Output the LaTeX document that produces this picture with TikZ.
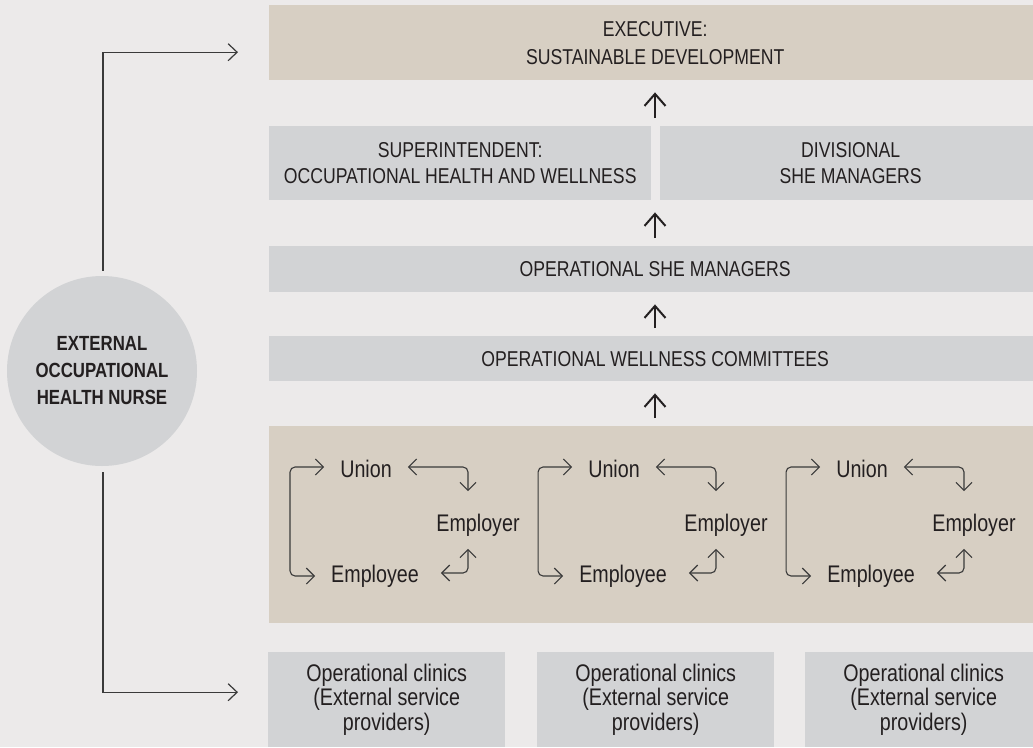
\documentclass[tikz,border=0pt]{standalone}
\usepackage{fontspec}
\setmainfont{Liberation Sans}[FakeStretch=0.82]
\usetikzlibrary{arrows.meta,calc}
\definecolor{bgc}{HTML}{ECEAEA}
\definecolor{tanc}{HTML}{D7CFC3}
\definecolor{grayc}{HTML}{D2D3D5}
\definecolor{textc}{HTML}{231F20}
\definecolor{linec}{HTML}{3A3A3A}
\tikzset{
  box/.style={anchor=north west, inner sep=0pt, align=center, text=textc,
    font=\fontsize{21.5}{26}\selectfont},
  tanbox/.style={box, fill=tanc},
  graybox/.style={box, fill=grayc},
  clinicbox/.style={graybox, minimum width=237pt, minimum height=95pt,
    font=\fontsize{24}{24.5}\selectfont},
  lower/.style={inner sep=0pt, text=textc, font=\fontsize{24}{26}\selectfont},
  nurse/.style={circle, fill=grayc, minimum size=190pt, inner sep=0pt,
    align=center, text=textc, font=\bfseries\fontsize{20.5}{27}\selectfont},
  conn/.style={draw=linec, line width=1.2pt, -{Straight Barb[length=9pt,width=17pt]}},
  tarrow/.style={draw=linec, line width=1.1pt, rounded corners=5pt,
    {Straight Barb[length=8pt,width=16pt]}-{Straight Barb[length=8pt,width=16pt]}},
  uparrow/.style={draw=textc, line width=2pt, -{Straight Barb[length=12pt,width=21pt]},
    shorten <=8pt, shorten >=12pt}
}
\begin{document}
\begin{tikzpicture}[x=1pt,y=-1pt]
\useasboundingbox (0,0) rectangle (1033,747);
\fill[bgc] (0,0) rectangle (1033,747);
\clip (0,0) rectangle (1033,747);
\coordinate (ax) at (655,0);

% boxes
\node[tanbox, minimum width=772pt, minimum height=75pt,
  font=\fontsize{21.5}{28}\selectfont] (exec) at (269,5)
  {EXECUTIVE:\\SUSTAINABLE DEVELOPMENT};
\node[graybox, minimum width=382pt, minimum height=74pt] (super) at (269,126)
  {SUPERINTENDENT:\\OCCUPATIONAL HEALTH AND WELLNESS};
\node[graybox, minimum width=381pt, minimum height=74pt] (div) at (660,126)
  {DIVISIONAL\\SHE MANAGERS};
\node[graybox, minimum width=772pt, minimum height=46pt] (osm) at (269,246)
  {OPERATIONAL SHE MANAGERS};
\node[graybox, minimum width=772pt, minimum height=45pt] (owc) at (269,336)
  {OPERATIONAL WELLNESS COMMITTEES};
\node[tanbox, minimum width=772pt, minimum height=197pt] (triad) at (269,426) {};
\node[clinicbox] (c1) at (268,652) {Operational clinics\\(External service\\providers)};
\node[clinicbox] (c2) at (537,652) {Operational clinics\\(External service\\providers)};
\node[clinicbox] (c3) at (805,652) {Operational clinics\\(External service\\providers)};

% nurse
\node[nurse] (nurse) at (102,371) {EXTERNAL\\OCCUPATIONAL\\HEALTH NURSE};

% vertical flow arrows
\draw[uparrow] (super.north -| ax) -- (exec.south -| ax);
\draw[uparrow] (osm.north -| ax) -- (super.south -| ax);
\draw[uparrow] (owc.north -| ax) -- (osm.south -| ax);
\draw[uparrow] (triad.north -| ax) -- (owc.south -| ax);

% nurse connectors
\draw[conn] ([xshift=1pt,yshift=5pt]nurse.north) |- ([xshift=-31pt,yshift=-9.5pt]exec.west);
\draw[conn] ([xshift=1pt,yshift=-6pt]nurse.south) |- ([xshift=-30pt,yshift=7.5pt]c1.west);

% triads
\foreach \i/\o in {1/0,2/248,3/496} {
  \node[lower] (u\i) at (366+\o,469) {Union};
  \node[lower] (r\i) at (478+\o,525) {Employer};
  \node[lower] (e\i) at (375+\o,576) {Employee};
  \draw[tarrow] ([xshift=-16pt,yshift=2pt]u\i.west) -| ([xshift=-41pt]e\i.west)
    -- ([xshift=-16pt]e\i.west);
  \draw[tarrow] ([xshift=16pt,yshift=2pt]u\i.east) -| ([xshift=-10pt,yshift=22.5pt]r\i.north);
  \draw[tarrow] ([xshift=-10pt,yshift=-12.5pt]r\i.south) |- ([xshift=22pt,yshift=3pt]e\i.east);
}
\end{tikzpicture}
\end{document}
